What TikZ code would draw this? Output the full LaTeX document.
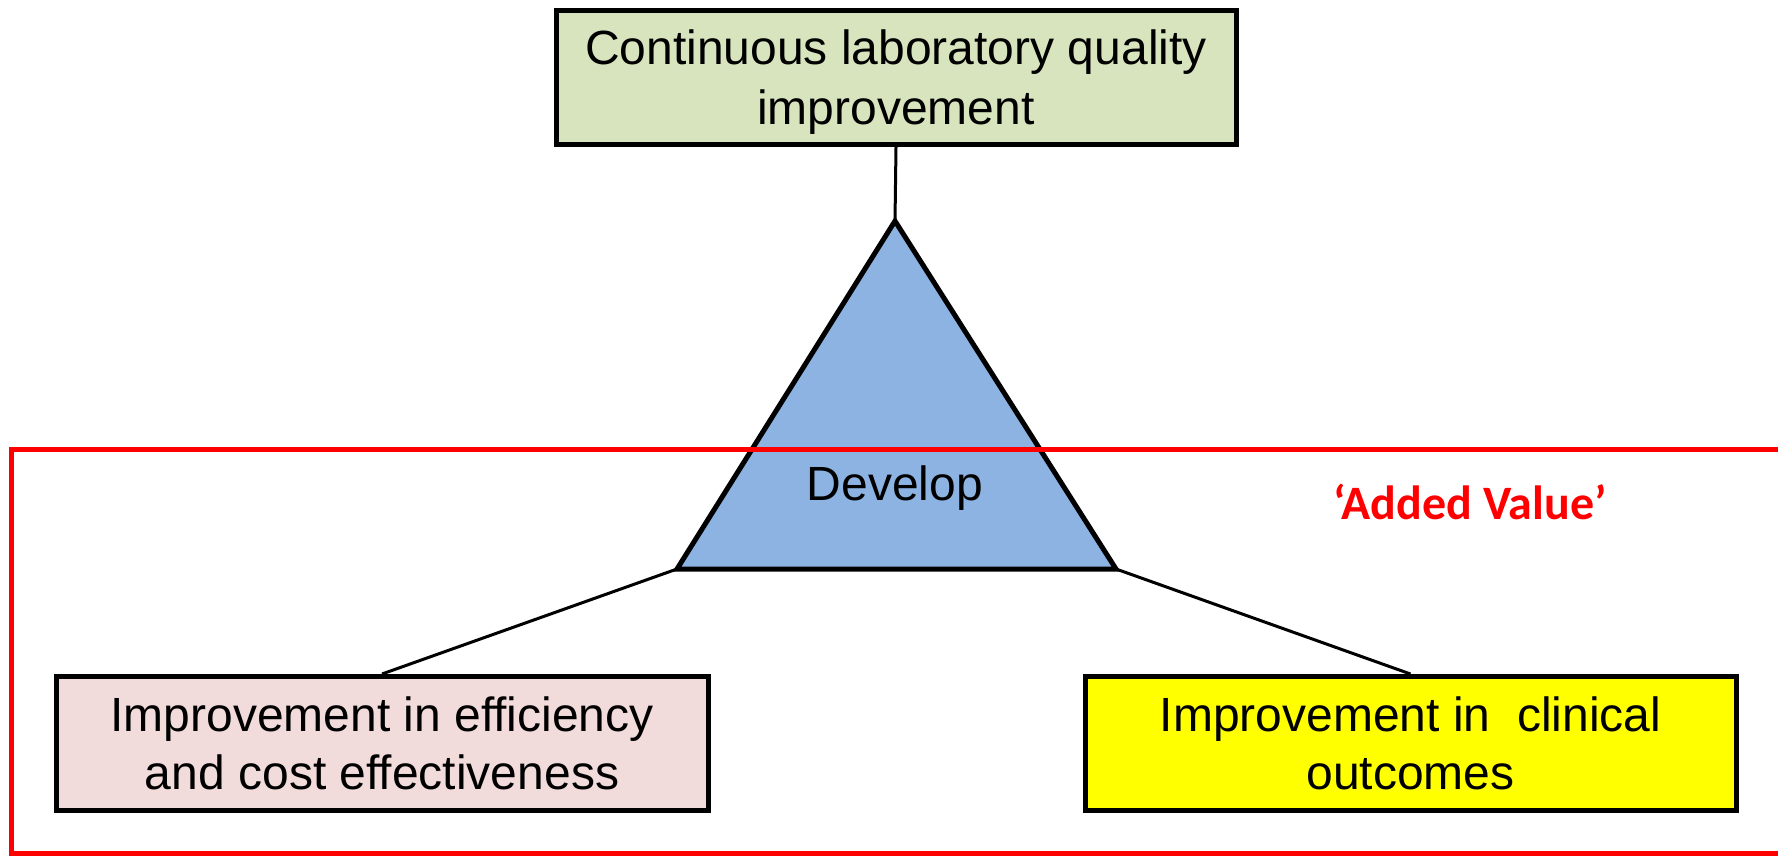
\documentclass[tikz,border=0pt]{standalone}
\usepackage{fontspec}
\setmainfont{Liberation Sans}
\newfontfamily\carlito{Carlito}
\definecolor{topgreen}{RGB}{215,228,189}
\definecolor{leftpink}{RGB}{242,220,219}
\definecolor{rightyellow}{RGB}{255,255,0}
\definecolor{triblue}{RGB}{141,179,226}
\definecolor{framered}{RGB}{255,0,0}
\tikzset{
  box/.style={draw=black, line width=5pt, rectangle, align=center, inner sep=0pt,
    font=\fontsize{48}{58}\selectfont},
  link/.style={draw=black, line width=3pt},
}
\begin{document}
\begin{tikzpicture}[x=1pt,y=-1pt]
\useasboundingbox (0,0) rectangle (1778,855);
\clip (0,0) rectangle (1778,855);
% boxes
\node[box, fill=topgreen, minimum width=680pt, minimum height=134pt, text depth=0pt,
  font=\fontsize{48}{60}\selectfont] (top) at (896,77.5)
  {Continuous laboratory quality\\improvement};
\node[box, fill=leftpink, minimum width=652pt, minimum height=134pt] (left) at (382,743.5)
  {Improvement in efficiency\\and cost effectiveness};
\node[box, fill=rightyellow, minimum width=651pt, minimum height=134pt] (right) at (1410.5,743.5)
  {Improvement in\ \ clinical\\outcomes};
% triangle
\coordinate (apex) at (895,221);
\coordinate (bl) at (677,569);
\coordinate (br) at (1116,569);
\filldraw[fill=triblue, draw=black, line width=5pt, line join=miter] (apex) -- (bl) -- (br) -- cycle;
% connectors
\draw[link] (top.south) -- (apex);
\draw[link] (bl) -- (left.north);
\draw[link] (br) -- (right.north);
% red frame
\coordinate (frTR) at (1800,449);
\coordinate (frTL) at (11,449);
\coordinate (frBL) at (11,853);
\coordinate (frBR) at (1800,853);
\draw[draw=framered, line width=5pt] (frTR) -- (frTL) -- (frBL) -- (frBR);
% labels
\node[font=\fontsize{48}{58}\selectfont, inner sep=0pt] (develop) at (895,488) {Develop};
\node[font=\carlito\bfseries\fontsize{48}{58}\selectfont, text=framered, inner sep=0pt] (added) at (1470,502) {‘Added Value’};
\end{tikzpicture}
\end{document}
